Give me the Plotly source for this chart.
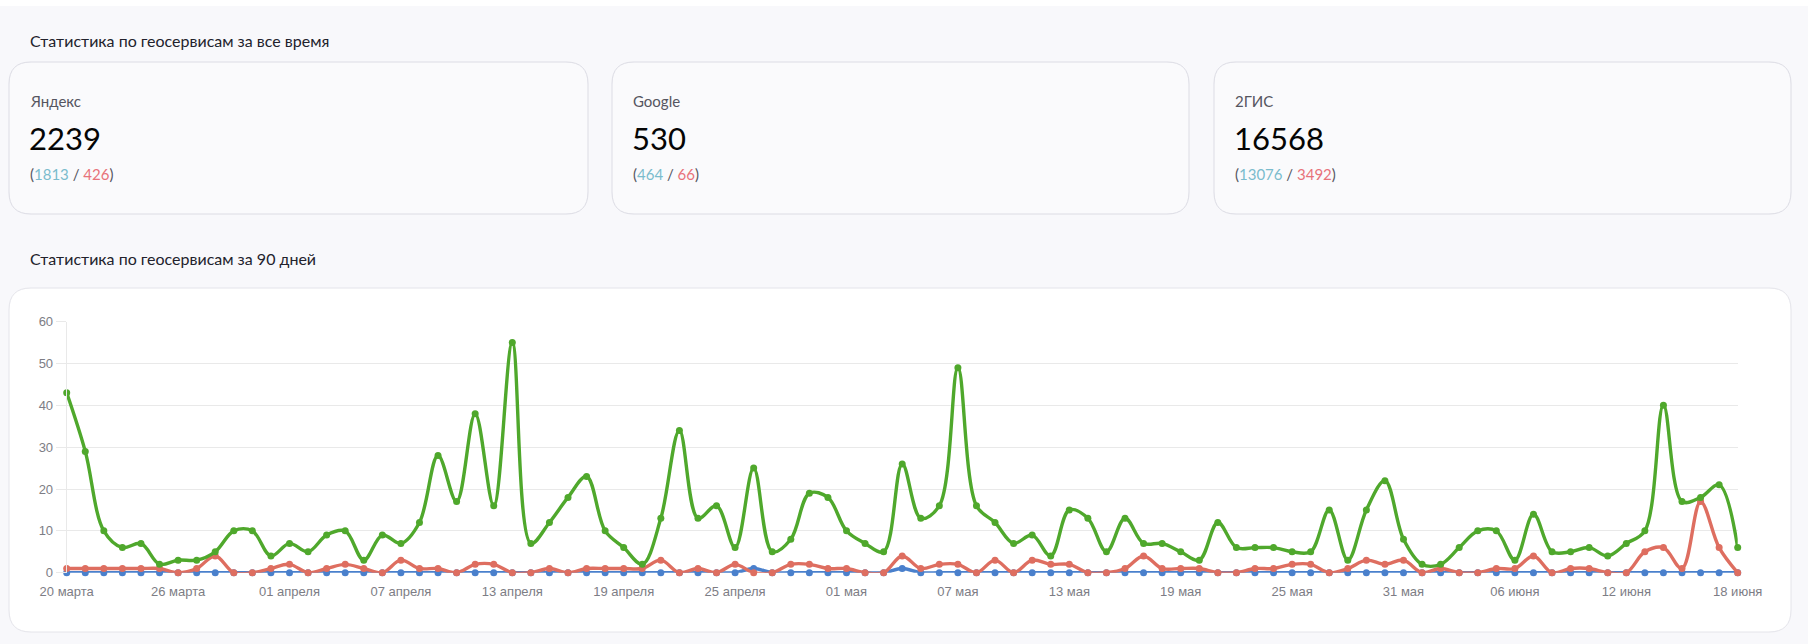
import plotly.graph_objects as go

W, H = 1808, 644

# ---- data ----
days = list(range(91))  # 20 марта .. 18 июня
tick_idx = list(range(0, 91, 6))
tick_labels = ["20 марта", "26 марта", "01 апреля", "07 апреля", "13 апреля", "19 апреля",
               "25 апреля", "01 мая", "07 мая", "13 мая", "19 мая", "25 мая", "31 мая",
               "06 июня", "12 июня", "18 июня"]

green = [43, 29, 10, 6, 7, 2, 3, 3, 5, 10, 10, 4, 7, 5, 9, 10, 3, 9, 7, 12,
         28, 17, 38, 16, 55, 7, 12, 18, 23, 10, 6, 2, 13, 34, 13, 16, 6, 25, 5, 8,
         19, 18, 10, 7, 5, 26, 13, 16, 49, 16, 12, 7, 9, 4, 15, 13, 5, 13, 7, 7,
         5, 3, 12, 6, 6, 6, 5, 5, 15, 3, 15, 22, 8, 2, 2, 6, 10, 10, 3, 14,
         5, 5, 6, 4, 7, 10, 40, 17, 18, 21, 6]
red = [1, 1, 1, 1, 1, 1, 0, 1, 4, 0, 0, 1, 2, 0, 1, 2, 1, 0, 3, 1,
       1, 0, 2, 2, 0, 0, 1, 0, 1, 1, 1, 1, 3, 0, 1, 0, 2, 0, 0, 2,
       2, 1, 1, 0, 0, 4, 1, 2, 2, 0, 3, 0, 3, 2, 2, 0, 0, 1, 4, 1,
       1, 1, 0, 0, 1, 1, 2, 2, 0, 1, 3, 2, 3, 0, 1, 0, 0, 1, 1, 4,
       0, 1, 1, 0, 0, 5, 6, 1, 17, 6, 0]
blue = [0] * 91
blue[37] = 1
blue[45] = 1

cards = [
    {"name": "Яндекс", "total": "2239", "pos": "1813", "neg": "426"},
    {"name": "Google", "total": "530", "pos": "464", "neg": "66"},
    {"name": "2ГИС", "total": "16568", "pos": "13076", "neg": "3492"},
]

# ---- styles ----
GREEN = "#4fa82c"
RED = "#de6e60"
BLUE = "#4a80cc"
FONT = "Lato"


def px(x):
    return x / W


def py(y):
    return 1 - y / H


def rrect(x0, y0, x1, y1, r, fill, line):
    rx, ry = r / W, r / H
    X0, X1 = px(x0), px(x1)
    Y0, Y1 = py(y0), py(y1)  # Y0 top (larger), Y1 bottom
    path = (f"M {X0+rx},{Y0} L {X1-rx},{Y0} Q {X1},{Y0} {X1},{Y0-ry} "
            f"L {X1},{Y1+ry} Q {X1},{Y1} {X1-rx},{Y1} "
            f"L {X0+rx},{Y1} Q {X0},{Y1} {X0},{Y1+ry} "
            f"L {X0},{Y0-ry} Q {X0},{Y0} {X0+rx},{Y0} Z")
    return dict(type="path", xref="paper", yref="paper", path=path,
                fillcolor=fill, line=dict(color=line, width=1), layer="below")


fig = go.Figure()
for vals, col in [(blue, BLUE), (red, RED), (green, GREEN)]:
    fig.add_trace(go.Scatter(
        x=days, y=vals, mode="lines+markers",
        line=dict(color=col, width=3.4, shape="spline", smoothing=1.0),
        marker=dict(color=col, size=7),
        cliponaxis=False, hoverinfo="skip", showlegend=False))

shapes = [dict(type="rect", xref="paper", yref="paper", x0=0, x1=1, y0=py(6), y1=1,
               fillcolor="#ffffff", line=dict(width=0), layer="below")]
card_x = [(9, 588), (612, 1189), (1214, 1791)]
for (x0, x1) in card_x:
    shapes.append(rrect(x0, 62, x1, 214, 22, "#fafafc", "#dcdce4"))
shapes.append(rrect(9, 288, 1791, 632, 22, "#ffffff", "#e4e4ea"))

ann = []
ann.append(dict(text="Статистика по геосервисам за все время", x=px(28), y=py(40),
                xref="paper", yref="paper", xanchor="left", yanchor="middle",
                showarrow=False, font=dict(family=FONT, size=16, color="#22222c")))
ann.append(dict(text="Статистика по геосервисам за 90 дней", x=px(28), y=py(258),
                xref="paper", yref="paper", xanchor="left", yanchor="middle",
                showarrow=False, font=dict(family=FONT, size=16, color="#22222c")))
for c, (x0, x1) in zip(cards, card_x):
    tx = x0 + 19
    ann.append(dict(text=c["name"], x=px(tx), y=py(101), xref="paper", yref="paper",
                    xanchor="left", yanchor="middle", showarrow=False,
                    font=dict(family=FONT, size=15, color="#555560")))
    ann.append(dict(text=c["total"], x=px(tx - 1), y=py(138), xref="paper", yref="paper",
                    xanchor="left", yanchor="middle", showarrow=False,
                    font=dict(family=FONT, size=31, color="#050505")))
    ann.append(dict(text=f"(<span style='color:#7bbccd'>{c['pos']}</span> / "
                         f"<span style='color:#e8727a'>{c['neg']}</span>)",
                    x=px(tx), y=py(174), xref="paper", yref="paper",
                    xanchor="left", yanchor="middle", showarrow=False,
                    font=dict(family=FONT, size=15, color="#555560")))

fig.update_layout(
    width=W, height=H, autosize=False,
    margin=dict(l=0, r=0, t=0, b=0, pad=0, autoexpand=False),
    paper_bgcolor="#f8f8fb", plot_bgcolor="rgba(0,0,0,0)",
    shapes=shapes, annotations=ann,
    xaxis=dict(domain=[66.7 / W, 1737.7 / W], range=[0, 90], automargin=False,
               tickvals=tick_idx, ticktext=tick_labels,
               showgrid=False, zeroline=False, showline=False,
               ticks="outside", ticklen=7, tickcolor="rgba(0,0,0,0)",
               tickfont=dict(family="Liberation Sans", size=13, color="#7d7d85")),
    yaxis=dict(domain=[py(572.7), py(321.7)], range=[0, 60], automargin=False,
               tickvals=[0, 10, 20, 30, 40, 50, 60],
               showgrid=True, gridcolor="#e9e9e9", gridwidth=1,
               zeroline=False, showline=True, linecolor="#e9e9e9", linewidth=1,
               ticks="outside", ticklen=10, tickcolor="#e9e9e9",
               tickfont=dict(family="Liberation Sans", size=13, color="#7d7d85")),
)

fig.write_html("out.html")
